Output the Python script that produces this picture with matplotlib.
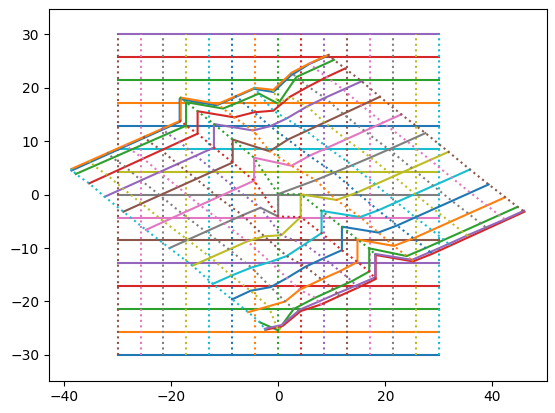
import matplotlib
matplotlib.use('Agg')
import matplotlib.pyplot as plt
import numpy as np

# original square grid (values of the horizontal / vertical lines)
grid_vals = [-30.0, -25.71, -21.43, -17.14, -12.86, -8.57, -4.29, 0.0,
             4.29, 8.57, 12.86, 17.14, 21.43, 25.71, 30.0]

# warped grid: one list per warped row, points listed left -> right
row00_x = [-38.6, -35.23, -31.87, -28.5, -25.13, -21.77, -18.4, -18.4, -11.48, -8.01, -4.55, -0.9, 2.38, 5.84, 9.3]
row00_y = [4.5, 6.02, 7.53, 9.05, 10.57, 12.08, 13.6, 17.9, 16.7, 18.25, 19.8, 19.2, 22.3, 24.45, 26.0]
row01_x = [-38.6, -35.2, -31.8, -28.4, -25.0, -21.6, -18.2, -18.2, -11.3, -7.85, -4.4, -0.9, 2.5, 5.95, 9.4]
row01_y = [4.8, 6.31, 7.82, 9.33, 10.83, 12.34, 13.85, 18.15, 16.95, 18.45, 19.98, 19.6, 22.8, 24.6, 26.15]
row02_x = [-37.8, -34.37, -30.93, -27.5, -24.07, -20.63, -17.2, -17.2, -10.3, -6.85, -3.6, 0.0, 3.4, 6.9, 10.4]
row02_y = [3.85, 5.36, 6.87, 8.38, 9.88, 11.39, 12.9, 17.3, 16.1, 17.5, 18.9, 17.0, 22.0, 23.6, 25.2]
row03_x = [-35.3, -31.93, -28.55, -25.18, -21.8, -18.43, -15.05, -15.05, -8.2, -4.5, -0.9, 2.2, 5.6, 9.06, 12.5]
row03_y = [2.1, 3.65, 5.2, 6.75, 8.3, 9.85, 11.4, 15.6, 14.45, 15.4, 15.7, 18.3, 20.2, 22.0, 23.6]
row04_x = [-32.4, -29.0, -25.6, -22.2, -18.8, -15.4, -12.0, -12.0, -4.7, -1.5, 1.5, 5.4, 8.7, 12.15, 15.6]
row04_y = [-0.4, 1.13, 2.67, 4.2, 5.73, 7.27, 8.8, 13.2, 12.0, 12.8, 14.2, 16.5, 18.1, 19.65, 21.2]
row05_x = [-28.9, -25.5, -22.1, -18.7, -15.3, -11.9, -8.5, -8.5, -1.6, 1.81, 5.25, 8.69, 12.13, 15.56, 19.0]
row05_y = [-3.2, -1.67, -0.13, 1.4, 2.93, 4.47, 6.0, 10.3, 8.1, 10.3, 11.9, 13.5, 15.1, 16.7, 18.3]
row06_x = [-24.7, -21.33, -17.97, -14.6, -11.23, -7.87, -4.5, -4.5, 2.5, 5.81, 9.25, 12.69, 16.13, 19.56, 23.0]
row06_y = [-6.6, -5.07, -3.53, -2.0, -0.47, 1.07, 2.6, 6.9, 5.4, 7.25, 8.8, 10.35, 11.9, 13.45, 15.0]
row07_x = [-20.3, -16.9, -13.5, -10.1, -6.66, -3.3, 0.0, 0.0, 7.0, 10.41, 13.83, 17.25, 20.67, 24.08, 27.5]
row07_y = [-10.0, -8.46, -6.93, -5.39, -3.86, -2.45, -4.1, 0.1, 2.7, 4.1, 5.5, 6.95, 8.45, 9.97, 11.5]
row08_x = [-16.0, -12.59, -9.17, -5.76, -2.6, 0.6, 4.2, 4.2, 10.9, 14.73, 18.14, 21.56, 24.97, 28.39, 31.8]
row08_y = [-13.3, -11.78, -10.26, -8.74, -7.8, -7.6, -4.2, 0.05, -1.0, 0.39, 1.91, 3.43, 4.96, 6.48, 8.0]
row09_x = [-12.2, -8.77, -5.0, -1.5, 1.6, 4.94, 8.1, 8.1, 15.3, 18.69, 22.11, 25.54, 28.97, 32.4, 35.8]
row09_y = [-16.7, -15.17, -13.65, -12.6, -11.5, -9.3, -7.2, -3.05, -4.2, -2.94, -1.41, 0.11, 1.64, 3.17, 4.7]
row10_x = [-8.6, -5.18, -1.4, 1.66, 5.09, 8.51, 11.9, 11.9, 18.7, 22.19, 25.61, 29.03, 32.46, 35.88, 39.3]
row10_y = [-19.6, -18.0, -17.3, -15.6, -13.5, -11.9, -10.4, -6.0, -7.1, -5.79, -4.25, -2.71, -1.18, 0.36, 1.9]
row11_x = [-5.6, -1.8, 1.3, 4.0, 8.11, 11.54, 14.8, 14.8, 21.6, 25.26, 28.69, 32.11, 35.54, 38.97, 42.4]
row11_y = [-22.0, -20.9, -20.0, -17.8, -15.86, -14.32, -12.6, -8.4, -9.6, -8.18, -6.64, -5.11, -3.57, -2.04, -0.5]
row12_x = [-3.4, 0.0, 2.9, 6.91, 10.34, 13.78, 17.0, 17.0, 24.0, 27.53, 30.96, 34.4, 37.83, 41.27, 44.7]
row12_y = [-23.9, -25.4, -21.4, -19.3, -17.73, -16.19, -14.4, -10.05, -11.5, -10.01, -8.47, -6.93, -5.39, -3.84, -2.3]
row13_x = [-2.4, 0.8, 4.2, 7.97, 11.43, 14.89, 18.2, 18.2, 25.2, 28.72, 32.17, 35.63, 39.09, 42.54, 46.0]
row13_y = [-25.3, -24.6, -21.8, -20.56, -18.98, -17.41, -15.8, -11.3, -12.5, -11.1, -9.52, -7.94, -6.36, -4.78, -3.2]
row14_x = [-2.5, 0.65, 4.1, 7.6, 11.0, 14.6, 18.1, 18.1, 25.0, 28.5, 31.9, 35.4, 38.9, 42.4, 45.9]
row14_y = [-25.1, -24.4, -21.5, -20.0, -18.5, -17.0, -15.5, -11.1, -12.2, -10.7, -9.2, -7.6, -6.1, -4.6, -3.0]

warp_x = np.array([row00_x, row01_x, row02_x, row03_x, row04_x, row05_x, row06_x, row07_x,
                   row08_x, row09_x, row10_x, row11_x, row12_x, row13_x, row14_x])
warp_y = np.array([row00_y, row01_y, row02_y, row03_y, row04_y, row05_y, row06_y, row07_y,
                   row08_y, row09_y, row10_y, row11_y, row12_y, row13_y, row14_y])

fig = plt.figure(figsize=(5.55, 4.13), dpi=100)
ax = fig.add_axes([49 / 555, 1 - 380.6 / 413, 498 / 555, 372 / 413])

gx, gy = np.meshgrid(grid_vals, grid_vals)
ax.plot(gx.T, gy.T, '-')            # horizontal lines
ax.plot(gx, gy, ':')                # vertical dotted lines
ax.plot(warp_x.T, warp_y.T, '-')    # warped rows
ax.plot(warp_x[:, ::-1], warp_y[:, ::-1], ':')  # warped columns

ax.set_xlim(-42.8, 50.2)
ax.set_ylim(-34.8, 34.8)
ax.set_xticks([-40, -20, 0, 20, 40])
ax.set_yticks([-30, -20, -10, 0, 10, 20, 30])

fig.savefig('out.png', dpi=100)
